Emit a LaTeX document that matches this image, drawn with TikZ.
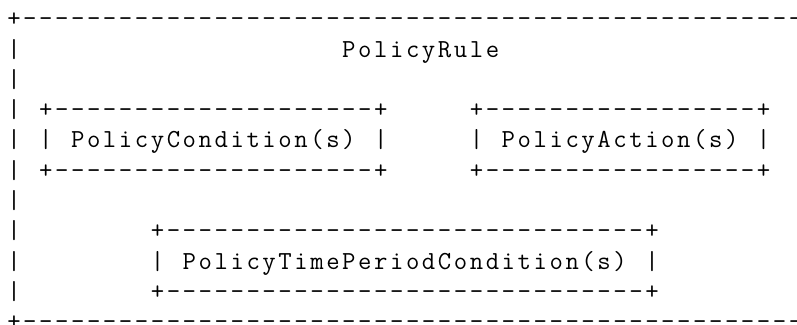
\documentclass[tikz,border=0pt]{standalone}
\usepackage{fontspec}
\newlength{\cellw}
\setlength{\cellw}{15.95pt}
\makeatletter
\def\gridrow#1{\gridrow@i#1\relax}
\def\gridrow@i#1{\ifx#1\relax\else\makebox[\cellw][c]{#1}\expandafter\gridrow@i\fi}
\makeatother
\tikzset{
  asciiline/.style={anchor=base west, inner sep=0pt, outer sep=0pt, text=black,
    font=\ttfamily\fontsize{26pt}{30.3pt}\selectfont}
}
\begin{document}
\begin{tikzpicture}[x=1pt,y=1pt]
\useasboundingbox (0,0) rectangle (797,-324);
\fill[white] (0,0) rectangle (797,-324);
\def\lx{6}
\node[asciiline] (l1)  at (\lx,-26.7)  {\gridrow{+--------------------------------------------------}};
\node[asciiline] (l2)  at (\lx,-57.0)  {\gridrow{|~~~~~~~~~~~~~~~~~~~~PolicyRule}};
\node[asciiline] (l3)  at (\lx,-87.3)  {\gridrow{|}};
\node[asciiline] (l4)  at (\lx,-117.6) {\gridrow{|~+--------------------+~~~~~+-----------------+}};
\node[asciiline] (l5)  at (\lx,-147.9) {\gridrow{|~|~PolicyCondition(s)~|~~~~~|~PolicyAction(s)~|}};
\node[asciiline] (l6)  at (\lx,-178.2) {\gridrow{|~+--------------------+~~~~~+-----------------+}};
\node[asciiline] (l7)  at (\lx,-208.5) {\gridrow{|}};
\node[asciiline] (l8)  at (\lx,-238.8) {\gridrow{|~~~~~~~~+------------------------------+}};
\node[asciiline] (l9)  at (\lx,-269.1) {\gridrow{|~~~~~~~~|~PolicyTimePeriodCondition(s)~|}};
\node[asciiline] (l10) at (\lx,-299.4) {\gridrow{|~~~~~~~~+------------------------------+}};
\node[asciiline] (l11) at (\lx,-329.7) {\gridrow{+--------------------------------------------------}};
\end{tikzpicture}
\end{document}
